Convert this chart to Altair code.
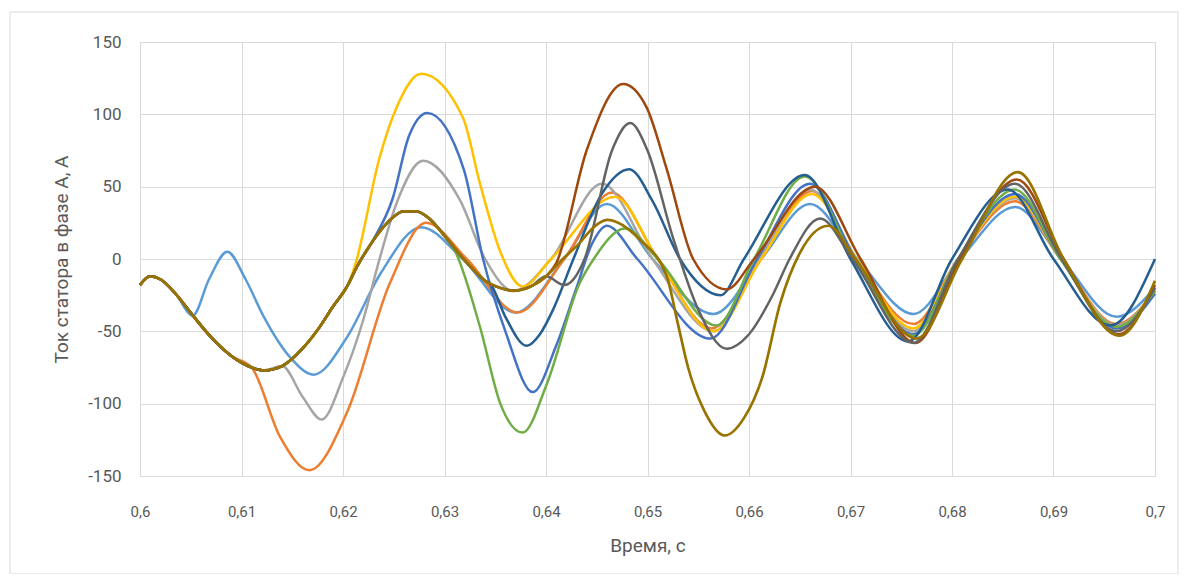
import altair as alt
import pandas as pd

# ---- common (pre-switching) trajectory ----
BASE_T = [0.6000, 0.6010, 0.6020, 0.6035, 0.6052, 0.6070, 0.6090, 0.6110, 0.6122, 0.6140,
          0.6160, 0.6175, 0.6190, 0.6204, 0.6214, 0.6228, 0.6245, 0.6260, 0.6272, 0.6285,
          0.6300, 0.6320, 0.6340, 0.6355, 0.6368, 0.6385, 0.6400, 0.6415, 0.6433, 0.6447, 0.6460]
BASE_I = [-18, -12, -14, -24, -39, -54, -67, -75, -77, -74,
          -62, -49, -33, -19, -5, 11, 26, 33, 33, 28,
          16, -1, -15, -20, -22, -19, -12, -1, 11, 22, 27]

# ---- individual series after their own switching instant ----
LB_T = [0.6052, 0.6068, 0.6086, 0.6104, 0.6122, 0.6148, 0.6171, 0.6204, 0.6237, 0.6277, 0.6318,
        0.6370, 0.6418, 0.6460, 0.6505, 0.6565, 0.6612, 0.6660, 0.6707, 0.6762, 0.6808, 0.6862,
        0.6908, 0.6962, 0.7000]
LB_I = [-39, -14, 5, -14, -40, -68, -80, -54, -10, 22, 0, -37, 0, 38, 0, -38, 0, 38, 0, -38, 0, 36,
        0, -40, -20]

OR_T = [0.6110, 0.6138, 0.6167, 0.6204, 0.6246, 0.6282, 0.6322, 0.6372, 0.6418, 0.6465, 0.6510,
        0.6563, 0.6612, 0.6662, 0.6706, 0.6762, 0.6806, 0.6862, 0.6907, 0.6962, 0.7000]
OR_I = [-75, -123, -146, -106, -17, 25, 0, -37, 0, 46, 0, -48, 0, 47, 0, -45, 0, 40, 0, -45, -22]

GR_T = [0.6140, 0.6160, 0.6179, 0.6200, 0.6220, 0.6236, 0.6253, 0.6279, 0.6315, 0.6340, 0.6368,
        0.6405, 0.6455, 0.6505, 0.6565, 0.6610, 0.6660, 0.6706, 0.6762, 0.6806, 0.6862, 0.6907,
        0.6962, 0.7000]
GR_I = [-74, -95, -111, -82, -42, 0, 39, 68, 41, 0, -22, 0, 52, 0, -50, 0, 48, 0, -50, 0, 42, 0,
        -46, -22]

YE_T = [0.6212, 0.6236, 0.6253, 0.6277, 0.6318, 0.6335, 0.6355, 0.6377, 0.6405,
        0.6468, 0.6510, 0.6565, 0.6612, 0.6662, 0.6706, 0.6762, 0.6806, 0.6862, 0.6907, 0.6962,
        0.7000]
YE_I = [-4, 70, 105, 128, 98, 52, 5, -19, 0, 43, 0, -50, 0, 45, 0, -48, 0, 43, 0, -47,
        -22]

BL_T = [0.6228, 0.6249, 0.6265, 0.6283, 0.6319, 0.6338, 0.6360, 0.6387, 0.6410, 0.6430,
        0.6445, 0.6460, 0.6490, 0.6562, 0.6608, 0.6660, 0.6705, 0.6762, 0.6806, 0.6862, 0.6907,
        0.6962, 0.7000]
BL_I = [11, 42, 85, 101, 62, 0, -50, -92, -60, -20, 10, 23, 0, -55, 0, 52, 0, -52, 0, 45, 0,
        -48, -24]

GN_T = [0.6310, 0.6335, 0.6355, 0.6377, 0.6401, 0.6433, 0.6447, 0.6478, 0.6510, 0.6568, 0.6605,
        0.6655, 0.6703, 0.6762, 0.6806, 0.6862, 0.6907, 0.6962, 0.7000]
GN_I = [6, -47, -100, -120, -86, -17, 0, 21, 0, -46, 0, 57, 0, -53, 0, 48, 0, -47, -22]

DB_T = [0.6345, 0.6360, 0.6381, 0.6394, 0.6407, 0.6427, 0.6455, 0.6482, 0.6505, 0.6532, 0.6572,
        0.6595, 0.6655, 0.6700, 0.6757, 0.6800, 0.6855, 0.6900, 0.6956, 0.7000]
DB_I = [-17, -40, -60, -52, -35, 0, 45, 62, 40, 0, -25, 0, 58, 0, -57, 0, 48, 0, -46, 0]

BR_T = [0.6410, 0.6440, 0.6476, 0.6499, 0.6519, 0.6545, 0.6578, 0.6605, 0.6665, 0.6710,
        0.6764, 0.6808, 0.6864, 0.6910, 0.6964, 0.7000]
BR_I = [-3, 75, 121, 105, 62, 0, -21, 0, 50, 0, -58, 0, 55, 0, -52, -18]

DG_T = [0.6400, 0.6418, 0.6438, 0.6465, 0.6483, 0.6500, 0.6525, 0.6550, 0.6578,
        0.6600, 0.6624, 0.6640, 0.6670, 0.6702, 0.6762, 0.6806, 0.6862, 0.6908, 0.6962, 0.7000]
DG_I = [-12, -18, 0, 75, 94, 75, 15, -35, -62, -52, -24, 0, 28, 0, -58, 0, 52, 0, -50,
        -20]

OL_T = [0.6460, 0.6493, 0.6519, 0.6530, 0.6540, 0.6556, 0.6576, 0.6595, 0.6613, 0.6631, 0.6650,
        0.6678, 0.6705, 0.6765, 0.6810, 0.6865, 0.6910, 0.6965, 0.7000]
OL_I = [27, 13, -12, -45, -75, -105, -122, -110, -82, -30, 4, 23, 0, -55, 0, 60, 0, -53, -15]

SERIES = [
    ("1", "#5B9BD5", LB_T, LB_I),
    ("2", "#ED7D31", OR_T, OR_I),
    ("3", "#A5A5A5", GR_T, GR_I),
    ("4", "#FFC000", YE_T, YE_I),
    ("5", "#4472C4", BL_T, BL_I),
    ("6", "#70AD47", GN_T, GN_I),
    ("7", "#255E91", DB_T, DB_I),
    ("8", "#9E480E", BR_T, BR_I),
    ("9", "#636363", DG_T, DG_I),
    ("10", "#997300", OL_T, OL_I),
]

X_TICKS = [0.6, 0.61, 0.62, 0.63, 0.64, 0.65, 0.66, 0.67, 0.68, 0.69, 0.7]
Y_TICKS = [-150, -100, -50, 0, 50, 100, 150]

rows = []
for name, color, T, I in SERIES:
    split = T[0]
    for t, v in zip(BASE_T, BASE_I):
        if t < split:
            rows.append({"series": name, "t": t, "i": v})
    for t, v in zip(T, I):
        rows.append({"series": name, "t": t, "i": v})
df = pd.DataFrame(rows)

FONT = "Roboto"
TXT = "#595959"

x_enc = alt.X(
    "t:Q",
    scale=alt.Scale(domain=[0.6, 0.7], nice=False, zero=False),
    axis=alt.Axis(
        title="Время, с", values=X_TICKS,
        labelExpr="replace(format(datum.value, '.2~f'), '.', ',')",
        labelPadding=28, titlePadding=17, labelFlush=False,
        labelFontSize=15, titleFontSize=19,
    ),
)
y_enc = alt.Y(
    "i:Q",
    scale=alt.Scale(domain=[-150, 150], nice=False),
    axis=alt.Axis(
        title="Ток статора в фазе А, А", values=Y_TICKS,
        labelExpr="toString(datum.value)",
        labelPadding=19, titlePadding=16,
        labelFontSize=17, titleFontSize=19,
    ),
)

layers = []
for name, color, T, I in SERIES:
    layers.append(
        alt.Chart(df)
        .transform_filter(alt.datum.series == name)
        .mark_line(color=color, strokeWidth=2.7 if name == "10" else 2.5, interpolate="monotone")
        .encode(x=x_enc, y=y_enc, order="t:Q")
    )

frame = (
    alt.Chart(pd.DataFrame({"a": [0]}))
    .mark_rect(filled=False, color="#d9d9d9", strokeWidth=1)
    .encode(x=alt.value(-130), x2=alt.value(1038), y=alt.value(-30), y2=alt.value(532))
)

chart = (
    alt.layer(frame, *layers)
    .properties(
        width=1015, height=434,
        autosize=alt.AutoSizeParams(type="none"),
        padding={"left": 132, "top": 34, "right": 24, "bottom": 98},
    )
    .configure_view(stroke=None)
    .configure_axis(
        grid=True, gridColor="#d9d9d9", gridWidth=1, domain=False, ticks=False,
        labelColor=TXT, labelFont=FONT,
        titleColor=TXT, titleFont=FONT, titleFontWeight="normal",
    )
)

chart.save("out.html", embed_options={"renderer": "svg", "actions": False})
